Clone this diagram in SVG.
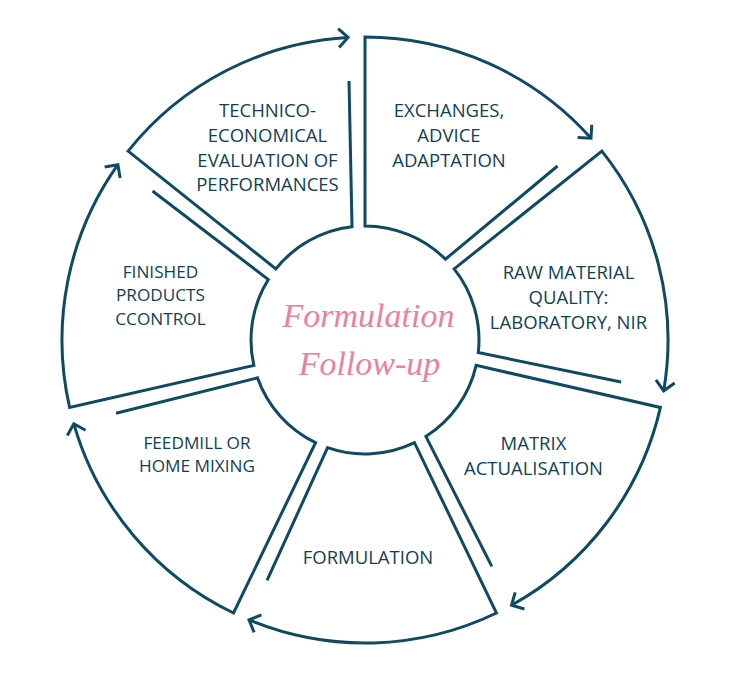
<svg xmlns="http://www.w3.org/2000/svg" width="738" height="676" viewBox="0 0 738 676">
<style>
.seg{fill:none;stroke:#0f4a63;stroke-width:3;stroke-linejoin:miter;stroke-miterlimit:10;marker-end:url(#arr)}
.lbl{font-family:"Open Sans","Noto Sans","Liberation Sans",sans-serif;font-size:18.5px;fill:#123f55;text-anchor:middle}
.sm{font-size:17.2px}
.title{font-family:"Liberation Serif","DejaVu Serif",serif;font-style:italic;font-size:34px;fill:#ec7fa0;text-anchor:middle}
</style>
<defs>
<marker id="arr" markerUnits="userSpaceOnUse" markerWidth="30" markerHeight="30" viewBox="-15 -15 30 30" refX="0" refY="0" orient="auto" overflow="visible">
<path d="M-9.5,-9.5 L0,0 L-9.5,9.5" fill="none" stroke="#0f4a63" stroke-width="3"/>
</marker>
</defs>
<rect width="738" height="676" fill="#ffffff"/>
<g id="connectors">
</g>
<g id="seg1">
<path class="seg" d="M557.51,166.01 L445.44,259.22 A114,114 0 0 0 365,226 L365,37 A303,303 0 0 1 591.0,138.17"/>
<text class="lbl" x="449" y="117">EXCHANGES,</text>
<text class="lbl" x="449" y="142">ADVICE</text>
<text class="lbl" x="449" y="167">ADAPTATION</text>
</g>
<g id="seg2">
<path class="seg" d="M621.07,382.03 L478.31,352.53 A114,114 0 0 0 454.13,268.92 L601.89,151.08 A303,303 0 0 1 663.71,390.83"/>
<text class="lbl" x="568.5" y="279">RAW MATERIAL</text>
<text class="lbl" x="568.5" y="304">QUALITY:</text>
<text class="lbl" x="568.5" y="329">LABORATORY, NIR</text>
</g>
<g id="seg3">
<path class="seg" d="M491.79,566.41 L425.85,436.40 A114,114 0 0 0 476.14,365.37 L660.40,407.42 A303,303 0 0 1 511.49,605.23"/>
<text class="lbl" x="533.5" y="450">MATRIX</text>
<text class="lbl" x="533.5" y="475">ACTUALISATION</text>
</g>
<g id="seg4">
<path class="seg" d="M267.05,580.29 L327.57,447.68 A114,114 0 0 0 414.46,442.71 L496.47,612.99 A303,303 0 0 1 248.99,619.91"/>
<text class="lbl" x="368" y="564">FORMULATION</text>
</g>
<g id="seg5">
<path class="seg" d="M116.05,413.23 L257.47,377.87 A114,114 0 0 0 315.54,442.71 L233.53,612.99 A303,303 0 0 1 73.82,423.81"/>
<text class="lbl sm" x="197" y="448.5">FEEDMILL OR</text>
<text class="lbl sm" x="197" y="472">HOME MIXING</text>
</g>
<g id="seg6">
<path class="seg" d="M152.53,191.03 L268.34,279.54 A114,114 0 0 0 253.86,365.37 L69.60,407.42 A303,303 0 0 1 117.89,164.65"/>
<text class="lbl sm" x="160.5" y="277.8">FINISHED</text>
<text class="lbl sm" x="160.5" y="301.3">PRODUCTS</text>
<text class="lbl sm" x="160.5" y="324.8">CCONTROL</text>
</g>
<g id="seg7">
<path class="seg" d="M349,81 L352,226.74 A114,114 0 0 0 275.87,268.92 L128.11,151.08 A303,303 0 0 1 348.09,37.47"/>
<text class="lbl" x="267.5" y="117">TECHNICO-</text>
<text class="lbl" x="267.5" y="142">ECONOMICAL</text>
<text class="lbl" x="267.5" y="166.5">EVALUATION OF</text>
<text class="lbl" x="267.5" y="191">PERFORMANCES</text>
</g>
<g id="center">
<text class="title" x="368.5" y="327">Formulation</text>
<text class="title" x="369.5" y="375">Follow-up</text>
</g>
</svg>
